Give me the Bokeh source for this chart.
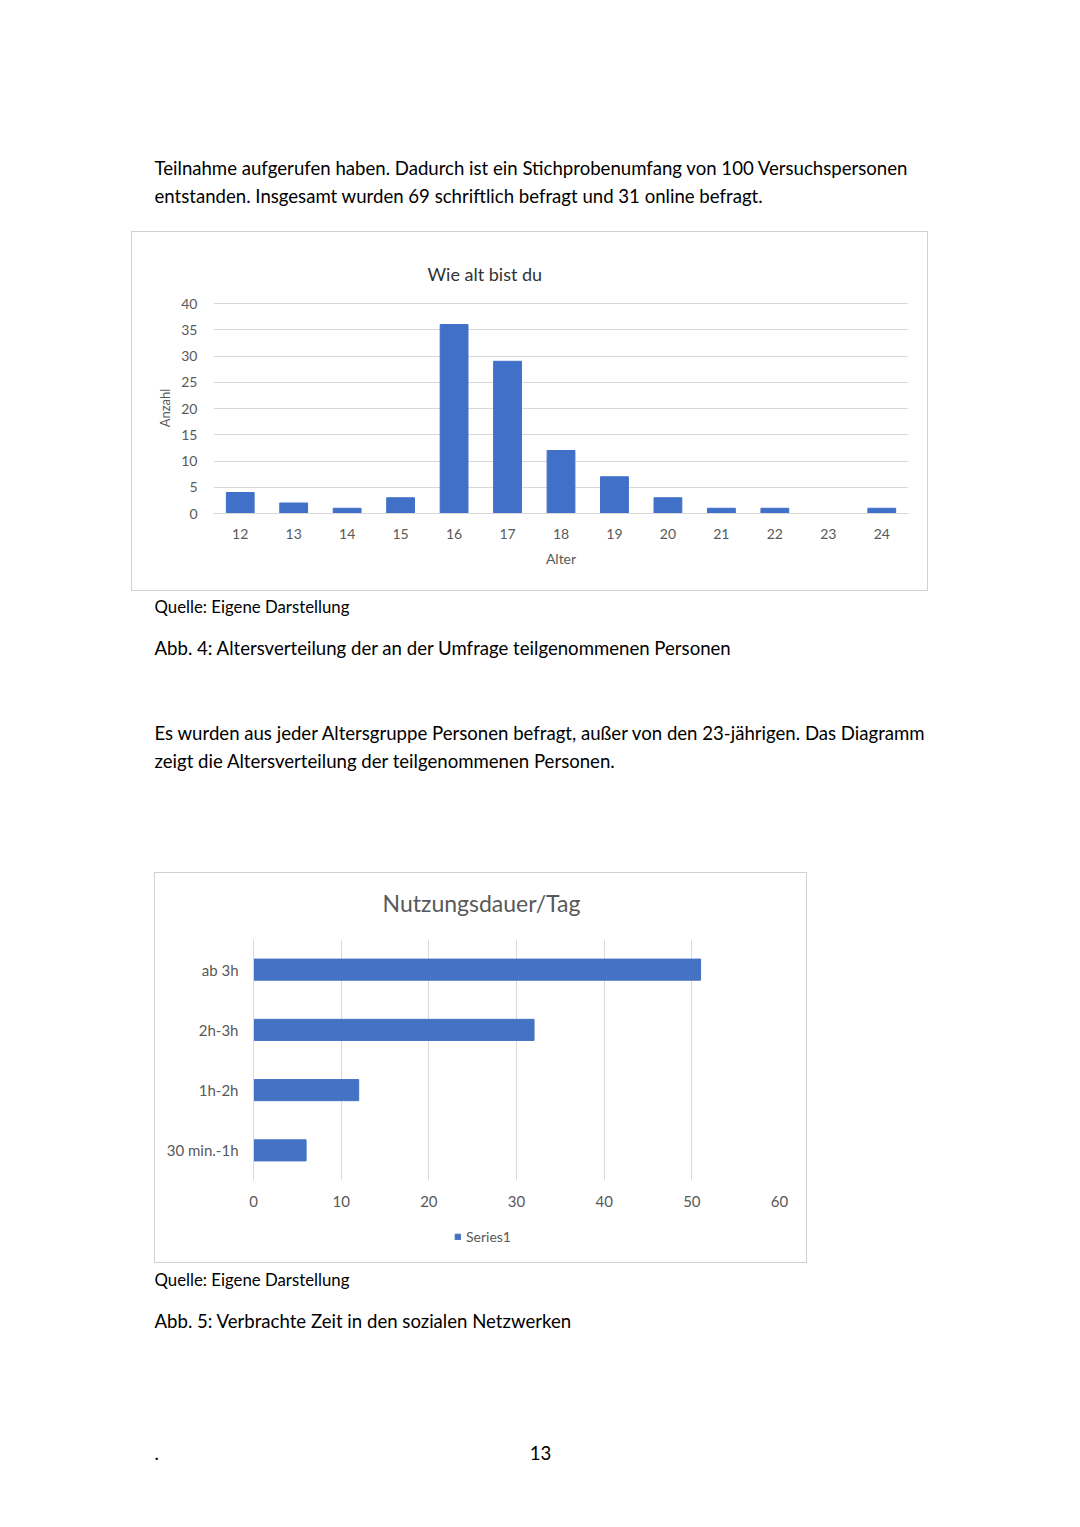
from bokeh.plotting import figure
from bokeh.layouts import column, row
from bokeh.models import (Range1d, FactorRange, Spacer, SingleIntervalTicker,
                          Legend, LegendItem)
from bokeh.core.properties import value
from bokeh.embed import file_html
from bokeh.resources import INLINE

# ---------------- data ----------------
ages = ["12", "13", "14", "15", "16", "17", "18", "19", "20", "21", "22", "23", "24"]
age_counts = [4, 2, 1, 3, 36, 29, 12, 7, 3, 1, 1, 0, 1]

usage_cats = ["30 min.-1h", "1h-2h", "2h-3h", "ab 3h"]
usage_vals = [6, 12, 32, 51]
series_name = "Series1"

title1 = "Wie alt bist du"
title2 = "Nutzungsdauer/Tag"
para1 = ["Teilnahme aufgerufen haben. Dadurch ist ein Stichprobenumfang von 100 Versuchspersonen",
         "entstanden. Insgesamt wurden 69 schriftlich befragt und 31 online befragt."]
para2 = ["Es wurden aus jeder Altersgruppe Personen befragt, außer von den 23-jährigen. Das Diagramm",
         "zeigt die Altersverteilung der teilgenommenen Personen."]
source_txt = "Quelle: Eigene Darstellung"
cap4 = "Abb. 4: Altersverteilung der an der Umfrage teilgenommenen Personen"
cap5 = "Abb. 5: Verbrachte Zeit in den sozialen Netzwerken"

FONT = "Lato"
CH = "#595959"
GRID = "#d9d9d9"
BORDER = "#d0d0d0"
BAR = "#4070c8"
BAR2 = "#4472c4"
BODY = "18.6px"
SMALL = "16.8px"


def text_fig(h, w=1080, left=0, right=0):
    f = figure(width=w, height=h, x_range=Range1d(left, w - right), y_range=Range1d(h, 0),
               x_axis_type=None, y_axis_type=None, toolbar_location=None,
               output_backend="svg", min_border=0,
               min_border_left=left, min_border_right=right)
    f.grid.visible = False
    f.outline_line_color = None
    return f


def add_text(f, x, y, t, size=BODY, align="left", color="#000000"):
    f.text(x=[x], y=[y], text=[t], text_font=value(FONT), text_font_size=size,
           text_align=align, text_baseline="middle", text_color=color)


def boxed(inner, w, h):
    """surround a chart with a 1px light grey frame built from coloured spacers"""
    bg = {"background": BORDER}
    return column(
        Spacer(width=w + 2, height=1, styles=bg),
        row(Spacer(width=1, height=h, styles=bg), inner, Spacer(width=1, height=h, styles=bg)),
        Spacer(width=w + 2, height=1, styles=bg),
    )


# ---------------- segment A ----------------
fA = text_fig(231)
add_text(fA, 154, 167, para1[0])
add_text(fA, 154, 195, para1[1])

# ---------------- chart 1 ----------------
W1, H1 = 795, 358
p1 = figure(width=W1, height=H1, x_range=FactorRange(*ages), y_range=Range1d(0, 40.2),
            toolbar_location=None, output_backend="svg",
            min_border_left=81, min_border_right=19, min_border_top=70, min_border_bottom=77,
            title=title1)
p1.vbar(x=ages, top=age_counts, width=0.52, color=BAR)
p1.title.align = "left"
p1.title.offset = 214
p1.title.standoff = 36
p1.title.text_font = FONT
p1.title.text_font_size = "18px"
p1.title.text_font_style = "normal"
p1.title.text_color = "#333333"
p1.outline_line_color = None
p1.xgrid.visible = False
p1.ygrid.grid_line_color = GRID
p1.yaxis.ticker = SingleIntervalTicker(interval=5, num_minor_ticks=0)
for ax in (p1.xaxis[0], p1.yaxis[0]):
    ax.major_tick_line_color = None
    ax.minor_tick_line_color = None
    ax.major_label_text_font = FONT
    ax.major_label_text_font_size = "14px"
    ax.major_label_text_color = CH
    ax.axis_label_text_font = FONT
    ax.axis_label_text_font_style = "normal"
    ax.axis_label_text_color = CH
p1.yaxis.axis_line_color = None
p1.yaxis.major_label_standoff = 10
p1.yaxis.axis_label = "Anzahl"
p1.yaxis.axis_label_text_font_size = "13px"
p1.yaxis.axis_label_standoff = 5
p1.xaxis.axis_line_color = GRID
p1.xaxis.major_label_standoff = 9
p1.xaxis.axis_label = "Alter"
p1.xaxis.axis_label_text_font_size = "14px"
p1.xaxis.axis_label_standoff = 8

row1 = row(Spacer(width=131, height=360), boxed(p1, W1, H1), Spacer(width=152, height=360))

# ---------------- segment C ----------------
fC = text_fig(281)
add_text(fC, 154, 15, source_txt, size=SMALL)
add_text(fC, 154, 56, cap4)
add_text(fC, 154, 141, para2[0])
add_text(fC, 154, 169, para2[1])

# ---------------- chart 2 ----------------
W2, H2 = 651, 389
HT = 66            # title strip
HP = 271           # plot part
HL = H2 - HT - HP  # legend strip
BL, BR = 98, 27    # plot-area borders (shared by the three stacked parts)

tf = text_fig(HT, W2, BL, BR)
add_text(tf, 326, 29, title2, size="23px", align="center", color=CH)

p2 = figure(width=W2, height=HP, y_range=FactorRange(*usage_cats), x_range=Range1d(0, 60),
            toolbar_location=None, output_backend="svg",
            min_border_left=BL, min_border_right=BR, min_border_top=0, min_border_bottom=30)
r2 = p2.hbar(y=usage_cats, right=usage_vals, height=0.35, color=BAR2)
p2.outline_line_color = None
p2.ygrid.visible = False
p2.xgrid.grid_line_color = GRID
p2.xaxis.ticker = SingleIntervalTicker(interval=10, num_minor_ticks=0)
for ax in (p2.xaxis[0], p2.yaxis[0]):
    ax.major_tick_line_color = None
    ax.minor_tick_line_color = None
    ax.major_label_text_font = FONT
    ax.major_label_text_font_size = "15px"
    ax.major_label_text_color = CH
p2.xaxis.axis_line_color = None
p2.xaxis.major_label_standoff = 9
p2.yaxis.axis_line_color = GRID
p2.yaxis.major_label_standoff = 9

# legend strip beneath the plot (same series styling; its renderer is hidden)
lf = text_fig(HL, W2, BL, BR)
lr = lf.hbar(y=usage_vals, right=usage_vals, height=0.35, color=BAR2)
lr.visible = False
leg = Legend(items=[LegendItem(label=series_name, renderers=[lr])], orientation="horizontal",
             location=(201, 17), border_line_color=None, background_fill_color=None,
             label_text_font=FONT, label_text_font_size="14px", label_text_color=CH,
             glyph_width=7, glyph_height=7, label_standoff=5, padding=0, margin=0)
lf.add_layout(leg)

row2 = row(Spacer(width=154, height=391), boxed(column(tf, p2, lf), W2, H2),
           Spacer(width=273, height=391))

# ---------------- segment E ----------------
fE = text_fig(264)
add_text(fE, 154, 16, source_txt, size=SMALL)
add_text(fE, 154, 57, cap5)
add_text(fE, 154, 189, ".")
add_text(fE, 540, 189, "13", align="center")

page = column(fA, row1, fC, row2, fE, spacing=0)

open("out.html", "w").write(file_html(page, INLINE))
